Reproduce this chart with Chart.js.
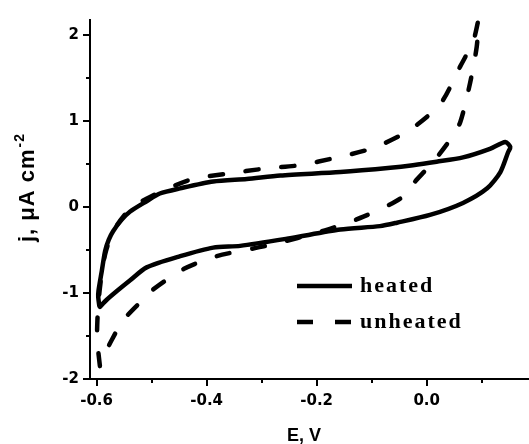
<!DOCTYPE html>
<html>
<head>
<meta charset="utf-8">
<script src="https://cdn.jsdelivr.net/npm/chart.js@4/dist/chart.umd.min.js"></script>
<style>
  html, body { margin: 0; padding: 0; background: #fff; }
  #wrap { width: 529px; height: 444px; }
</style>
</head>
<body>
<div id="wrap"><canvas id="cv" width="529" height="444"></canvas></div>
<script>
// Cyclic voltammograms: potential E (V) and current density j (µA cm^-2)
const heatedE = [-0.595, -0.597, -0.5965, -0.5905, -0.5845, -0.578, -0.570, -0.555, -0.539, -0.509, -0.485, -0.448, -0.388, -0.327, -0.266, -0.157, -0.066, -0.025, 0.018, 0.066, 0.115, 0.143, 0.152, 0.148, 0.134, 0.110, 0.066, 0.006, -0.054, -0.085, -0.157, -0.248, -0.339, -0.388, -0.448, -0.509, -0.539, -0.562, -0.582, -0.594];
const heatedJ = [-1.15, -1.05, -0.97, -0.74, -0.51, -0.38, -0.28, -0.15, -0.05, 0.07, 0.16, 0.22, 0.30, 0.33, 0.37, 0.41, 0.46, 0.49, 0.53, 0.58, 0.68, 0.76, 0.70, 0.64, 0.41, 0.22, 0.05, -0.09, -0.18, -0.22, -0.26, -0.36, -0.45, -0.47, -0.57, -0.70, -0.85, -0.97, -1.08, -1.16];

const unheatedE = [-0.594, -0.599, -0.5985, -0.5955, -0.590, -0.583, -0.568, -0.539, -0.503, -0.430, -0.363, -0.294, -0.230, -0.163, -0.097, -0.033, 0.0245, 0.061, 0.085, 0.094, 0.091, 0.079, 0.061, 0.043, 0.012, -0.021, -0.048, -0.115, -0.185, -0.285, -0.382, -0.442, -0.500, -0.512, -0.551, -0.572, -0.586, -0.594];
const unheatedJ = [-1.85, -1.54, -1.31, -1.03, -0.74, -0.51, -0.26, -0.02, 0.12, 0.32, 0.39, 0.45, 0.49, 0.58, 0.69, 0.89, 1.20, 1.64, 1.94, 2.17, 1.87, 1.45, 0.99, 0.79, 0.53, 0.30, 0.10, -0.11, -0.27, -0.44, -0.57, -0.72, -0.97, -1.05, -1.31, -1.54, -1.72, -1.85];

const seriesNames = ['heated', 'unheated'];
const xMajorTicks = [-0.6, -0.4, -0.2, 0.0];
const xMinorTicks = [-0.5, -0.3, -0.1, 0.1];
const yMajorTicks = [-2, -1, 0, 1, 2];
const yMinorTicks = [-1.5, -0.5, 0.5, 1.5];
const xTitle = 'E, V';
const yTitle = 'j, \u03bcA cm';
const yTitleSup = '-2';

const INK = '#000';
const LINE_W = 4.5;
const DASH = [13, 23];

function toPoints(xs, ys) {
  return xs.map((x, i) => ({ x: x, y: ys[i] }));
}

// Minor/major tick marks, axis titles and the in-plot legend
const decorations = {
  id: 'decorations',
  afterDraw(chart) {
    const ctx = chart.ctx;
    const xs = chart.scales.x, ys = chart.scales.y;
    const area = chart.chartArea;
    ctx.save();
    ctx.strokeStyle = INK;
    ctx.lineWidth = 2;
    ctx.lineCap = 'butt';
    ctx.beginPath();
    xMajorTicks.forEach(v => { const p = Math.round(xs.getPixelForValue(v)); ctx.moveTo(p, area.bottom); ctx.lineTo(p, area.bottom + 7); });
    xMinorTicks.forEach(v => { const p = Math.round(xs.getPixelForValue(v)); ctx.moveTo(p, area.bottom); ctx.lineTo(p, area.bottom + 4); });
    yMajorTicks.forEach(v => { const p = Math.round(ys.getPixelForValue(v)); ctx.moveTo(area.left - 7, p); ctx.lineTo(area.left, p); });
    yMinorTicks.forEach(v => { const p = Math.round(ys.getPixelForValue(v)); ctx.moveTo(area.left - 4, p); ctx.lineTo(area.left, p); });
    ctx.stroke();

    // x title
    ctx.fillStyle = INK;
    ctx.font = 'bold 18px "Liberation Sans", Arial, sans-serif';
    ctx.textAlign = 'center';
    ctx.textBaseline = 'middle';
    ctx.fillText(xTitle, 304, 436);

    // y title, rotated, with superscript exponent
    ctx.save();
    ctx.translate(34, 242);
    ctx.rotate(-Math.PI / 2);
    ctx.textAlign = 'left';
    ctx.textBaseline = 'alphabetic';
    ctx.font = 'bold 22px "Liberation Sans", Arial, sans-serif';
    ctx.letterSpacing = '1px';
    ctx.fillText(yTitle, 0, 0);
    const w = ctx.measureText(yTitle).width;
    ctx.font = 'bold 14px "Liberation Sans", Arial, sans-serif';
    ctx.fillText(yTitleSup, w + 1, -10);
    ctx.letterSpacing = '0px';
    ctx.restore();

    // legend
    const rows = [{ y: 286, dash: [] }, { y: 322, dash: [16, 22] }];
    rows.forEach((r, i) => {
      ctx.beginPath();
      ctx.setLineDash(r.dash);
      ctx.lineWidth = LINE_W;
      ctx.lineCap = 'butt';
      ctx.moveTo(297, r.y);
      ctx.lineTo(352, r.y);
      ctx.stroke();
      ctx.setLineDash([]);
      ctx.font = 'bold 22px "Liberation Serif", "Times New Roman", serif';
      ctx.letterSpacing = '2px';
      ctx.textAlign = 'left';
      ctx.textBaseline = 'middle';
      ctx.fillText(seriesNames[i], 360, r.y);
      ctx.letterSpacing = '0px';
    });
    ctx.restore();
  }
};

const tickFont = { family: '"DejaVu Sans", sans-serif', size: 15, weight: 'bold' };

new Chart(document.getElementById('cv'), {
  type: 'scatter',
  data: {
    datasets: [
      {
        label: seriesNames[0],
        data: toPoints(heatedE, heatedJ),
        showLine: true,
        borderColor: INK,
        borderWidth: LINE_W,
        pointRadius: 0,
        tension: 0.25,
        fill: false,
        clip: false,
        borderJoinStyle: 'round',
        borderCapStyle: 'round'
      },
      {
        label: seriesNames[1],
        data: toPoints(unheatedE, unheatedJ),
        showLine: true,
        borderColor: INK,
        borderWidth: LINE_W,
        borderDash: DASH,
        pointRadius: 0,
        tension: 0.25,
        fill: false,
        clip: false,
        borderJoinStyle: 'round',
        borderCapStyle: 'round'
      }
    ]
  },
  options: {
    responsive: false,
    devicePixelRatio: 1,
    animation: false,
    layout: { padding: { top: 15, left: 0, right: 0, bottom: 0 } },
    plugins: { legend: { display: false }, tooltip: { enabled: false } },
    scales: {
      x: {
        type: 'linear',
        min: -0.612,
        max: 0.186,
        afterBuildTicks: s => { s.ticks = xMajorTicks.map(v => ({ value: v })); },
        afterFit: s => { s.height = 65; },
        ticks: {
          callback: v => Number(v).toFixed(1),
          font: tickFont,
          color: INK,
          padding: 13,
          autoSkip: false,
          maxRotation: 0
        },
        grid: { display: true, drawOnChartArea: false, drawTicks: false },
        border: { display: true, width: 2, color: INK }
      },
      y: {
        type: 'linear',
        min: -2,
        max: 2.18,
        afterBuildTicks: s => { s.ticks = yMajorTicks.map(v => ({ value: v })); },
        afterFit: s => { s.width = 90; },
        ticks: {
          callback: v => String(v),
          font: tickFont,
          color: INK,
          padding: 11
        },
        grid: { display: true, drawOnChartArea: false, drawTicks: false },
        border: { display: true, width: 2, color: INK }
      }
    }
  },
  plugins: [decorations]
});
</script>
</body>
</html>
